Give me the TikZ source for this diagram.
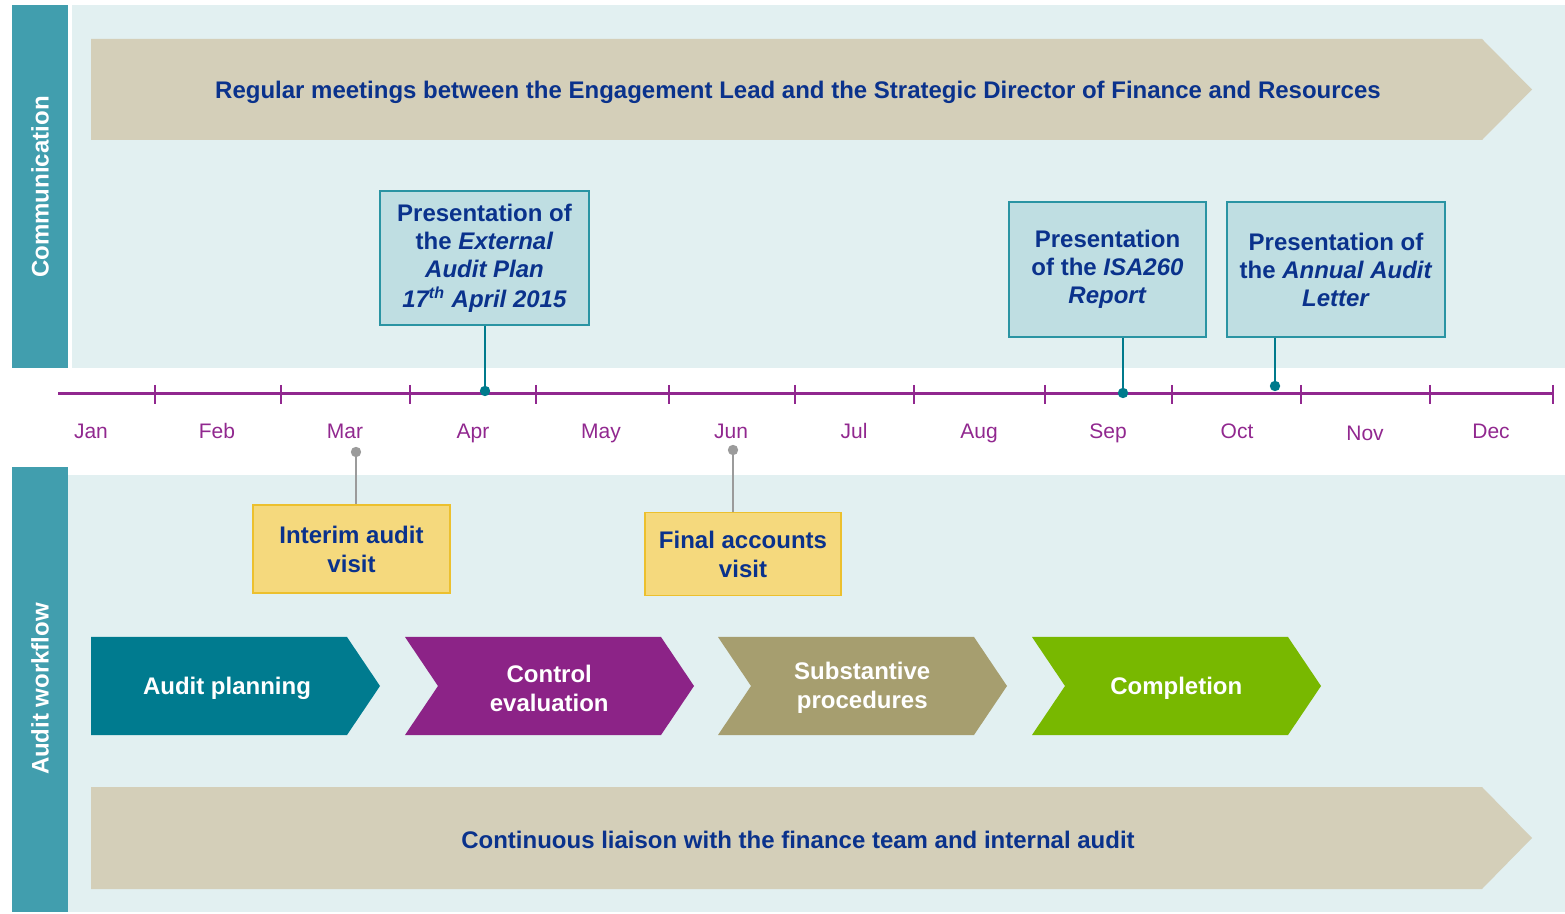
\documentclass[tikz,border=0pt]{standalone}
\usepackage{fontspec}
\setmainfont{Liberation Sans}

\definecolor{sidebar}{RGB}{65,158,174}
\definecolor{panel}{RGB}{226,240,241}
\definecolor{banner}{RGB}{212,207,185}
\definecolor{navytext}{RGB}{10,50,140}
\definecolor{timeline}{RGB}{145,40,143}
\definecolor{boxfill}{RGB}{191,222,226}
\definecolor{boxline}{RGB}{42,148,163}
\definecolor{pincolour}{RGB}{0,122,140}
\definecolor{visitfill}{RGB}{245,217,125}
\definecolor{visitline}{RGB}{236,192,46}
\definecolor{greypin}{RGB}{155,155,155}
\definecolor{planning}{RGB}{0,123,143}
\definecolor{control}{RGB}{140,35,135}
\definecolor{substantive}{RGB}{166,158,111}
\definecolor{completion}{RGB}{120,184,0}

\tikzset{
  bold text/.style={text=navytext, font=\bfseries\fontsize{12}{14}\selectfont, align=center},
  present box/.style={bold text, draw=boxline, line width=0.75pt, fill=boxfill, inner sep=0pt},
  visit box/.style={bold text, font=\bfseries\fontsize{12}{14.5}\selectfont, draw=visitline, line width=0.75pt, fill=visitfill, inner sep=0pt},
  side label/.style={text=white, font=\bfseries\fontsize{12}{14}\selectfont, rotate=90},
  month label/.style={text=timeline, font=\fontsize{10.5}{12}\selectfont, anchor=base},
  chevron label/.style={text=white, font=\bfseries\fontsize{12}{14.5}\selectfont, align=center},
  pin line/.style={pincolour, line width=1.2pt},
  grey line/.style={greypin, line width=1.2pt}
}

\begin{document}
\begin{tikzpicture}[x=0.5pt, y=-0.5pt]
            \useasboundingbox (0,0) rectangle (1565,914);

            % Draw the two panels and their side bars
            \fill[panel] (72,5) rectangle (1565,368);
            \fill[panel] (65,475) rectangle (1565,912);
            \fill[sidebar] (12,5) rectangle (68,368);
            \fill[sidebar] (12,467) rectangle (68,912);
            \node[side label] (commlabel) at (40,187) {Communication};
            \node[side label] (workflowlabel) at (40,689) {Audit workflow};

            % Draw the two long banners
            \fill[banner] (91,39) -- (1482,39) -- (1532,89.5) -- (1482,140) -- (91,140) -- cycle;
            \node[bold text] (meetings) at (798,92) {Regular meetings between the Engagement Lead and the Strategic Director of Finance and Resources};
            \fill[banner] (91,787) -- (1482,787) -- (1532,838) -- (1482,889) -- (91,889) -- cycle;
            \node[bold text] (liaison) at (798,840) {Continuous liaison with the finance team and internal audit};

            % Draw the timeline
            \coordinate (tlstart) at (58,394);
            \coordinate (tlend) at (1553,394);
            \draw[timeline, line width=1.5pt] (tlstart) -- (tlend);

            % Draw the ticks and the months on the timeline
            \foreach \x in {155, 281, 410, 536, 669, 795, 914, 1045, 1172, 1301, 1430, 1553} {
                \draw[timeline, line width=1.1pt] (\x,385) -- (\x,404);
            }
            \foreach \x/\month/\y in {91/Jan/439, 217/Feb/439, 345/Mar/439, 473/Apr/439, 601/May/439, 731/Jun/439,
                                     854/Jul/439, 979/Aug/439, 1108/Sep/439, 1237/Oct/439, 1365/Nov/441, 1491/Dec/439} {
                \node[month label] (m\month) at (\x,\y) {\month};
            }

            % Draw the presentations above the timeline
            \node[present box, minimum width=104.5pt, minimum height=67pt] (auditplan) at (484.5,258)
                {Presentation of\\the \textit{External}\\\textit{Audit Plan}\\[1pt]\textit{17\textsuperscript{th} April 2015}};
            \node[present box, minimum width=98.5pt, minimum height=67.5pt] (isareport) at (1107.5,269.5)
                {Presentation\\of the \textit{ISA260}\\\textit{Report}};
            \node[present box, minimum width=109pt, minimum height=67.5pt] (auditletter) at (1336,269.5)
                {Presentation of\\the \textit{Annual Audit}\\\textit{Letter}};

            \coordinate (aprdot) at (485,391);
            \coordinate (sepdot) at (1123,393);
            \coordinate (octdot) at (1275,386);
            \draw[pin line] (auditplan.south -| aprdot) -- (aprdot);
            \draw[pin line] (isareport.south -| sepdot) -- (sepdot);
            \draw[pin line] (auditletter.south -| octdot) -- (octdot);
            \foreach \d in {aprdot, sepdot, octdot} {
                \fill[pincolour] (\d) circle[radius=2.6pt];
            }

            % Draw the visits below the timeline
            \node[visit box, minimum width=98.5pt, minimum height=44pt] (interim) at (351.5,549) {Interim audit\\visit};
            \node[visit box, minimum width=98pt, minimum height=41.5pt] (finalacc) at (743,554) {Final accounts\\visit};

            \coordinate (marvisit) at (356,452);
            \coordinate (junvisit) at (733,450);
            \draw[grey line] (marvisit) -- (interim.north -| marvisit);
            \draw[grey line] (junvisit) -- (finalacc.north -| junvisit);
            \foreach \d in {marvisit, junvisit} {
                \fill[greypin] (\d) circle[radius=2.6pt];
            }

            % Draw the workflow chevrons
            \foreach \x/\n/\col/\name/\txt in {91/0/planning/planstep/{Audit planning},
                                             405/33/control/controlstep/{Control\\evaluation},
                                             718/33/substantive/substep/{Substantive\\procedures},
                                             1032/33/completion/completestep/{Completion}} {
                \fill[\col] (\x,637) -- ({\x+256},637) -- ({\x+289},686) -- ({\x+256},735)
                    -- (\x,735) -- ({\x+\n},686) -- cycle;
                \node[chevron label] (\name) at ({\x+136+\n/4},688) {\txt};
            }
        \end{tikzpicture}
\end{document}
